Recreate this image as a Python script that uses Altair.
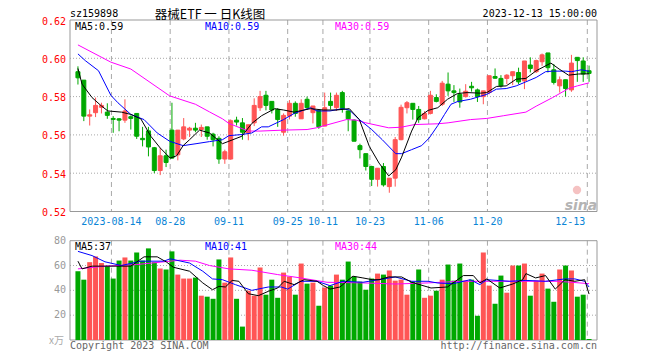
import altair as alt
import pandas as pd

# ---------------- data ----------------
opens = [0.5930,0.5886,0.5698,0.5716,0.5744,0.5719,0.5686,0.5684,0.5677,0.5695,
         0.5712,0.5582,0.5621,0.5533,0.5414,0.5491,0.5625,0.5496,0.5579,0.5625,
         0.5635,0.5628,0.5642,0.5604,0.5582,0.5474,0.5474,0.5677,0.5663,0.5610,
         0.5663,0.5742,0.5807,0.5775,0.5733,0.5614,0.5698,0.5765,0.5684,0.5786,
         0.5716,0.5728,0.5646,0.5775,0.5742,0.5821,0.5725,0.5677,0.5544,0.5502,
         0.5435,0.5368,0.5435,0.5330,0.5374,0.5575,0.5742,0.5765,0.5733,0.5684,
         0.5712,0.5795,0.5760,0.5865,0.5830,0.5812,0.5800,0.5854,0.5835,0.5800,
         0.5821,0.5905,0.5895,0.5895,0.5909,0.5926,0.5882,0.5965,0.5930,0.5982,
         0.6028,0.5940,0.5856,0.5888,0.5835,0.6005,0.5986,0.5935]
highs = [0.5958,0.5886,0.5733,0.5795,0.5768,0.5765,0.5698,0.5688,0.5786,0.5702,
         0.5712,0.5642,0.5642,0.5537,0.5532,0.5523,0.5768,0.5625,0.5688,0.5642,
         0.5663,0.5654,0.5642,0.5611,0.5593,0.5523,0.5681,0.5695,0.5688,0.5653,
         0.5791,0.5830,0.5830,0.5775,0.5740,0.5712,0.5782,0.5775,0.5786,0.5800,
         0.5751,0.5728,0.5821,0.5821,0.5821,0.5830,0.5728,0.5681,0.5554,0.5502,
         0.5439,0.5426,0.5453,0.5374,0.5589,0.5758,0.5777,0.5765,0.5751,0.5724,
         0.5830,0.5812,0.5882,0.5926,0.5860,0.5842,0.5865,0.5877,0.5842,0.5830,
         0.5909,0.5947,0.5912,0.5917,0.5930,0.5951,0.5986,0.6005,0.5993,0.6025,
         0.6028,0.5970,0.5905,0.5888,0.6018,0.6005,0.6005,0.5962]
lows = [0.5863,0.5672,0.5649,0.5693,0.5712,0.5684,0.5611,0.5619,0.5663,0.5628,
        0.5579,0.5540,0.5488,0.5400,0.5390,0.5432,0.5475,0.5467,0.5572,0.5589,
        0.5614,0.5589,0.5575,0.5540,0.5449,0.5449,0.5470,0.5649,0.5575,0.5572,
        0.5646,0.5725,0.5728,0.5712,0.5642,0.5596,0.5681,0.5695,0.5684,0.5730,
        0.5660,0.5632,0.5646,0.5733,0.5725,0.5716,0.5619,0.5567,0.5477,0.5414,
        0.5333,0.5330,0.5330,0.5298,0.5330,0.5572,0.5712,0.5680,0.5663,0.5681,
        0.5707,0.5770,0.5751,0.5804,0.5772,0.5742,0.5795,0.5826,0.5772,0.5760,
        0.5812,0.5893,0.5847,0.5865,0.5860,0.5865,0.5839,0.5926,0.5923,0.5961,
        0.5926,0.5863,0.5821,0.5800,0.5825,0.5877,0.5877,0.5877]
closes = [0.5898,0.5698,0.5705,0.5754,0.5754,0.5702,0.5681,0.5677,0.5725,0.5686,
          0.5593,0.5575,0.5537,0.5414,0.5491,0.5456,0.5479,0.5625,0.5642,0.5635,
          0.5625,0.5639,0.5593,0.5575,0.5474,0.5512,0.5674,0.5667,0.5614,0.5653,
          0.5754,0.5800,0.5754,0.5730,0.5680,0.5702,0.5765,0.5712,0.5765,0.5742,
          0.5751,0.5642,0.5742,0.5754,0.5807,0.5737,0.5684,0.5567,0.5523,0.5435,
          0.5368,0.5426,0.5339,0.5374,0.5575,0.5744,0.5768,0.5733,0.5680,0.5712,
          0.5807,0.5775,0.5870,0.5830,0.5821,0.5772,0.5828,0.5846,0.5800,0.5830,
          0.5909,0.5896,0.5856,0.5912,0.5930,0.5877,0.5986,0.5947,0.5988,0.6018,
          0.5951,0.5874,0.5888,0.5842,0.5975,0.5988,0.5918,0.5921]
volumes = [55.4,48.6,62.7,67.3,62.0,59.5,49.5,64.0,66.5,64.0,
           70.5,64.0,73.8,62.7,57.6,56.8,71.4,52.7,49.5,49.5,
           50.3,35.7,34.9,33.2,64.9,46.2,66.5,33.2,10.8,39.7,
           35.7,58.4,36.5,48.6,34.0,54.3,51.0,36.5,61.6,45.4,
           46.2,27.6,42.2,43.8,52.7,48.6,63.2,51.0,47.0,40.5,
           49.5,53.5,52.7,56.0,47.8,48.6,36.5,47.0,56.8,34.0,
           35.7,39.7,48.6,60.8,47.8,61.6,47.8,48.6,19.5,70.5,
           43.8,29.2,51.9,38.1,60.0,60.0,61.6,35.7,47.8,53.5,
           41.4,30.8,56.8,60.0,56.0,34.9,36.5,0.8]

tick_idx = [6, 16, 26, 36, 42, 50, 60, 70]
tick_labels = ["2023-08-14", "08-28", "09-11", "09-25", "10-11", "10-23", "11-06", "11-20"]
last_tick_idx = [87]
last_tick_label = ["12-13"]

price_ticks = [0.62, 0.60, 0.58, 0.56, 0.54, 0.52]
price_tick_labels = ["0.62", "0.60", "0.58", "0.56", "0.54", "0.52"]
vol_ticks = [80, 60, 40, 20]
vol_tick_labels = ["80", "60", "40", "20"]

# moving average lines (index, value)
ma5_i = [0,0.7,2.4,4,5.1,7.4,9,10.7,12.4,14,15.7,16.8,17.9,19,20.7,22.4,24.6,25.7,27.9,29.6,31.25,33.5,35,36.8,39.6,41.8,44,46.2,47.9,49.6,51.25,52.9,54.1,55.1,56.8,57.9,59.6,61.25,62.9,64.6,66.25,68.5,69.6,71.25,72.9,74.6,76.25,78,80.5,81.9,83.5,85.2,87]
ma5_v = [0.5947,0.5865,0.5795,0.5751,0.5725,0.5719,0.5707,0.5684,0.5593,0.5532,0.5479,0.5491,0.5544,0.5575,0.5625,0.5610,0.5554,0.5567,0.5593,0.5660,0.5700,0.5737,0.5730,0.5719,0.5737,0.5730,0.5730,0.5737,0.5680,0.5540,0.5453,0.5386,0.5418,0.5484,0.5620,0.5690,0.5728,0.5742,0.5786,0.5816,0.5821,0.5818,0.5821,0.5853,0.5856,0.5891,0.5895,0.5935,0.5975,0.5944,0.5912,0.5918,0.5919]
ma10_i = [0,1.25,3.5,5.6,6.8,9,11.25,13.5,15.6,17.9,20.1,22.4,24.6,25.7,27.9,29.6,31.25,32.4,35,36.8,39.6,40.7,42.9,45,46.2,47.9,50,51.8,54.1,55.1,56.8,58.5,59.8,61.25,62.4,63.5,64.6,66.8,69.6,71.25,72.9,74.6,76.25,78,79.6,80.8,83,84,85.7,87]
ma10_v = [0.6023,0.5988,0.5935,0.5807,0.5768,0.5707,0.5680,0.5610,0.5567,0.5544,0.5554,0.5565,0.5575,0.5596,0.5602,0.5610,0.5642,0.5642,0.5680,0.5712,0.5742,0.5725,0.5725,0.5737,0.5730,0.5680,0.5628,0.5575,0.5502,0.5502,0.5523,0.5544,0.5584,0.5649,0.5707,0.5760,0.5774,0.5786,0.5812,0.5839,0.5842,0.5856,0.5877,0.5900,0.5930,0.5933,0.5933,0.5930,0.5940,0.5932]
ma30_i = [0,5.6,9,15.6,20,22.4,24.6,25.7,29,31,35,39,40.6,45.7,47.4,49,52.9,55,57.3,61.25,63,66.8,69.6,72.4,76.25,78,80.8,83.5,85,87]
ma30_v = [0.6070,0.5980,0.5944,0.5804,0.5760,0.5720,0.5684,0.5660,0.5620,0.5620,0.5625,0.5628,0.5637,0.5680,0.5677,0.5663,0.5637,0.5640,0.5654,0.5658,0.5663,0.5680,0.5686,0.5700,0.5719,0.5750,0.5795,0.5842,0.5856,0.5872]

vma5_i = [0,0.7,2.4,4.6,9,11.25,13.5,15.1,16.25,19,21.25,22.9,24,25.1,26.25,27.4,29,30.7,32.4,34,35.1,36.8,38.5,40.7,41.8,42.9,44.6,46.8,48.5,50.1,51.25,52.9,55.1,56.8,60.1,62.9,65.6,67.3,68.4,69.6,71.8,74,75.7,76.25,77.9,79.6,81.25,82.9,84.6,86.25,87]
vma5_v = [63.5,57.3,59.5,59.5,59.5,67,67,62.7,58.6,55.4,46,40.5,43.2,42.7,48,47.3,37.3,35.7,39.2,41.9,47.3,44.6,48.6,47.3,43.8,41,42.7,51.4,50,48.6,48.6,50.8,50.8,46.5,41.9,42.7,51.9,51.9,46,49.2,41.9,45.1,48.6,53.5,50,51.9,41,48.6,47.3,48.6,37]
vma10_i = [0,2.4,4.6,7.4,10.7,14.6,15.7,19,21.25,22.9,24.6,26.8,29.6,32.4,34.6,35.7,37.9,40.7,42.9,45.1,48.5,51.25,54,56.8,59.6,61.25,63.9,66.8,68.4,69.6,73.5,76.25,79.6,82.9,84.6,86.25,87]
vma10_v = [71.4,68,63,60,63.5,63.5,65.4,62,55.4,49.2,48.6,44.6,40,42.7,42.7,41,47.3,47.3,43.8,47.3,46.5,48.6,50.8,47.3,47.3,45.9,45.4,48.6,44.6,48.6,47.3,48,47.3,49.2,49.2,47.3,42.7]
vma30_i = [0,4.6,10,14,17.4,20,22.4,25.7,29.6,34,37.9,42.4,48.5,54,59.6,65.1,70.7,76.25,81.8,87]
vma30_v = [57.3,59.5,60.8,62.7,64.3,63.5,60,57.3,56.2,52.7,50,46.5,46,45.1,46,47.3,47.3,47.3,47.3,45.4]

# ---------------- styling ----------------
W, H = 527, 320
RED, GREEN = "#ff5555", "#00a800"
FONT = "DejaVu Sans Mono"
GRID = "#a8a8a8"
FRAME = "#999999"

xs = alt.Scale(domain=[-0.5, 87.5], nice=False, zero=False)
ps = alt.Scale(domain=[0.4529, 0.62], nice=False, zero=False)
vs = alt.Scale(domain=[0, 257.8], nice=False, zero=False)
dir_scale = alt.Scale(domain=["up", "down"], range=[RED, GREEN])


def X(f):
    return alt.X(f"{f}:Q", scale=xs, axis=None)


def PY(f):
    return alt.Y(f"{f}:Q", scale=ps, axis=None)


def VY(f):
    return alt.Y(f"{f}:Q", scale=vs, axis=None)


candles = pd.DataFrame({"i": list(range(len(opens))), "o": opens, "h": highs,
                        "l": lows, "c": closes, "v": volumes})
candles["dir"] = ["up" if c >= o else "down" for o, c in zip(opens, closes)]
candles["z"] = 0

layers = []

# frames and grids
pframe = pd.DataFrame({"top": [0.62], "bot": [0.52]})
vframe = pd.DataFrame({"top": [80], "bot": [0]})
layers.append(alt.Chart(pd.DataFrame({"p": price_ticks[1:-1]})).mark_rule(
    color=GRID, strokeDash=[1, 2], strokeWidth=1).encode(
    y=PY("p"), x=alt.value(0), x2=alt.value(W)))
layers.append(alt.Chart(pd.DataFrame({"p": [60, 40, 20]})).mark_rule(
    color=GRID, strokeDash=[1, 2], strokeWidth=1).encode(
    y=VY("p"), x=alt.value(0), x2=alt.value(W)))
grid_pos = pd.DataFrame({"g": [t - 0.3 for t in tick_idx + last_tick_idx]})
grid_pos["pt"] = 0.62
grid_pos["pb"] = 0.52
grid_pos["vt"] = 80
grid_pos["vb"] = 0
layers.append(alt.Chart(grid_pos).mark_rule(color=GRID, strokeDash=[5, 4], strokeWidth=1).encode(
    x=X("g"), y=PY("pt"), y2="pb:Q"))
layers.append(alt.Chart(grid_pos).mark_rule(color=GRID, strokeDash=[5, 4], strokeWidth=1).encode(
    x=X("g"), y=VY("vt"), y2="vb:Q"))
layers.append(alt.Chart(pframe).mark_rect(fill="transparent", stroke=FRAME, strokeWidth=1).encode(
    x=alt.value(0), x2=alt.value(W), y=PY("top"), y2="bot:Q"))
layers.append(alt.Chart(vframe).mark_rect(fill="transparent", stroke=FRAME, strokeWidth=1).encode(
    x=alt.value(0), x2=alt.value(W), y=VY("top"), y2="bot:Q"))

# sina watermark
layers.append(alt.Chart(pd.DataFrame({"a": [0]})).mark_point(
    shape="circle", filled=True, color="#f2b3b3", size=70, opacity=0.8).encode(
    x=alt.value(507), y=alt.value(170)))
layers.append(alt.Chart(pd.DataFrame({"a": [0]})).mark_text(
    text="sina", font="DejaVu Sans", fontSize=14, fontStyle="italic", fontWeight="bold",
    color="#b4b4b4", align="center").encode(x=alt.value(511), y=alt.value(186)))

# candles
color_enc = alt.Color("dir:N", scale=dir_scale, legend=None)
base = alt.Chart(candles)
layers.append(base.mark_rule(strokeWidth=1).encode(x=X("i"), y=PY("l"), y2="h:Q", color=color_enc))
layers.append(base.mark_bar(size=4, strokeWidth=1).encode(
    x=X("i"), y=PY("o"), y2="c:Q",
    fill=alt.Fill("dir:N", scale=dir_scale, legend=None),
    stroke=alt.Stroke("dir:N", scale=dir_scale, legend=None)))
layers.append(base.mark_bar(size=5).encode(x=X("i"), y=VY("v"), y2="z:Q", color=color_enc))


# MA lines
def ma_line(ii, vv, col, ysc):
    df = pd.DataFrame({"i": ii, "m": vv})
    y = PY("m") if ysc == "p" else VY("m")
    return alt.Chart(df).mark_line(color=col, strokeWidth=1).encode(x=X("i"), y=y)


layers.append(ma_line(ma30_i, ma30_v, "#ff00ff", "p"))
layers.append(ma_line(ma10_i, ma10_v, "#0000ff", "p"))
layers.append(ma_line(ma5_i, ma5_v, "#000000", "p"))
layers.append(ma_line(vma30_i, vma30_v, "#ff00ff", "v"))
layers.append(ma_line(vma10_i, vma10_v, "#0000ff", "v"))
layers.append(ma_line(vma5_i, vma5_v, "#000000", "v"))


# texts
def label(txt, x, y, color="#000000", align="left", size=10, font=FONT, baseline="alphabetic"):
    return alt.Chart(pd.DataFrame({"a": [0]})).mark_text(
        text=txt, font=font, fontSize=size, color=color, align=align, baseline=baseline).encode(
        x=alt.value(x), y=alt.value(y))


layers.append(label("sz159898", 0, -3))
layers.append(label("器械ETF 一 日K线图", 140, -11, align="center", size=12.5,
                    font="Noto Sans CJK SC", baseline="top"))
layers.append(label("2023-12-13 15:00:00", W, -3, align="right"))
layers.append(label("MA5:0.59", 5, 9.5))
layers.append(label("MA10:0.59", 135, 9.5, color="#0000ff"))
layers.append(label("MA30:0.59", 265, 9.5, color="#ff00ff"))
layers.append(label("MA5:37", 5, 230))
layers.append(label("MA10:41", 135, 230, color="#0000ff"))
layers.append(label("MA30:44", 265, 230, color="#ff00ff"))
layers.append(label("Copyright 2023 SINA.COM", 0, 328.5, color="#666666"))
layers.append(label("http://finance.sina.com.cn", W, 328.5, color="#666666", align="right"))
layers.append(label("x万", -6, 321, color="#aaaaaa", align="right", font="Noto Sans CJK SC", baseline="middle"))

pt = pd.DataFrame({"p": price_ticks, "t": price_tick_labels})
layers.append(alt.Chart(pt).mark_text(font=FONT, fontSize=10, color="#ff0000", align="right",
                                      baseline="middle", dy=1.5).encode(
    x=alt.value(-4), y=PY("p"), text="t:N"))
vt = pd.DataFrame({"p": vol_ticks, "t": vol_tick_labels})
layers.append(alt.Chart(vt).mark_text(font=FONT, fontSize=10, color="#999999", align="right",
                                      baseline="middle").encode(
    x=alt.value(-4), y=VY("p"), text="t:N"))
xt = pd.DataFrame({"g": [t - 0.3 for t in tick_idx], "t": tick_labels})
layers.append(alt.Chart(xt).mark_text(font=FONT, fontSize=10, color="#0a85d6", align="center",
                                      baseline="middle").encode(
    x=X("g"), y=alt.value(201.5), text="t:N"))
xt2 = pd.DataFrame({"g": [t - 0.3 for t in last_tick_idx], "t": last_tick_label})
layers.append(alt.Chart(xt2).mark_text(font=FONT, fontSize=10, color="#0a85d6", align="right",
                                       baseline="middle", dx=-2).encode(
    x=X("g"), y=alt.value(201.5), text="t:N"))

chart = alt.layer(*layers).resolve_scale(y="independent").properties(
    width=W, height=H,
    autosize=alt.AutoSizeParams(type="none"),
    padding={"left": 62, "top": 12, "right": 20, "bottom": 11},
    background="white",
).configure_view(strokeWidth=0)

chart.save("out.html", embed_options={"renderer": "svg", "actions": False})
